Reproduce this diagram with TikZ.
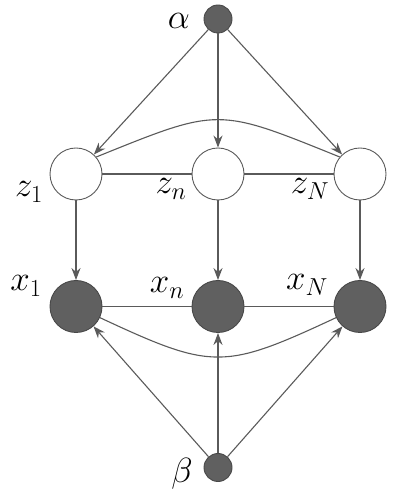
\documentclass[tikz,border=0pt]{standalone}
\usepackage{fix-cm}
\usetikzlibrary{arrows.meta}
\definecolor{nodefill}{HTML}{606060}
\definecolor{edgecol}{HTML}{5A5A5A}
\begin{document}
\begin{tikzpicture}[x=1pt,y=1pt,
  latent/.style={circle,draw=edgecol,line width=0.9pt,fill=white,minimum size=52pt,inner sep=0pt},
  observed/.style={circle,draw=edgecol!80!black,line width=0.9pt,fill=nodefill,minimum size=52pt,inner sep=0pt},
  hyper/.style={circle,draw=edgecol!80!black,line width=0.9pt,fill=nodefill,minimum size=28pt,inner sep=0pt},
  lab/.style={inner sep=0pt,font=\fontsize{35}{40}\selectfont},
  edge/.style={draw=edgecol,line width=1.1pt},
  arr/.style={edge,-{Stealth[length=12pt,width=9pt]}}]
\useasboundingbox (0,0) rectangle (400,500);
% nodes (y = 500 - image y)
\node[hyper] (alpha) at (218,481) {};
\node[latent] (z1) at (76,326) {};
\node[latent] (zn) at (218,326) {};
\node[latent] (zN) at (360,326) {};
\node[observed] (x1) at (76,193.5) {};
\node[observed] (xn) at (218,193.5) {};
\node[observed] (xN) at (360,193.5) {};
\node[hyper] (beta) at (218,32.5) {};
% labels
\node[lab] (lalpha) at (179,479) {$\alpha$};
\node[lab] (lz1) at (29,308) {$z_1$};
\node[lab] (lzn) at (171,311) {$z_n$};
\node[lab] (lzN) at (310,311) {$z_N$};
\node[lab] (lx1) at (26,214) {$x_1$};
\node[lab] (lxn) at (167,212) {$x_n$};
\node[lab] (lxN) at (307,215) {$x_N$};
\node[lab] (lbeta) at (182,26) {$\beta$};
% edges
\draw[arr] (alpha) -- (z1);
\draw[arr] (alpha) -- (zn);
\draw[arr] (alpha) -- (zN);
\draw[edge] (z1) -- (zn);
\draw[edge] (zn) -- (zN);
\draw[edge] (z1.40) to[out=22,in=158,looseness=1.4] (zN.140);
\draw[arr] (z1) -- (x1);
\draw[arr] (zn) -- (xn);
\draw[arr] (zN) -- (xN);
\draw[edge] (x1) -- (xn);
\draw[edge] (xn) -- (xN);
\draw[edge] (x1.-25) to[out=-25,in=-155,looseness=1.35] (xN.-155);
\draw[arr] (beta) -- (x1);
\draw[arr] (beta) -- (xn);
\draw[arr] (beta) -- (xN);
\end{tikzpicture}
\end{document}
